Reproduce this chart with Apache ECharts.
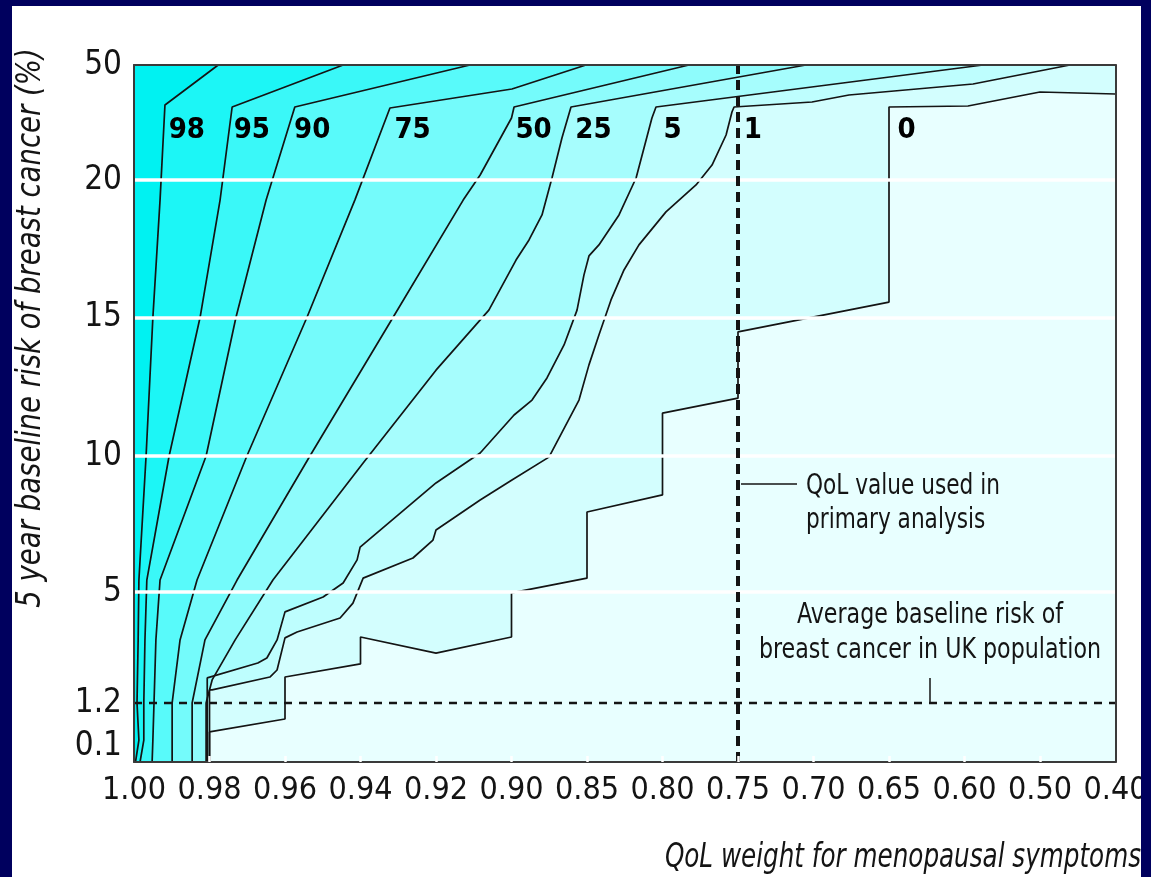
<!DOCTYPE html>
<html>
<head>
<meta charset="utf-8">
<script src="https://cdn.jsdelivr.net/npm/echarts@6.0.0/dist/echarts.min.js"></script>
<style>
  html, body { margin: 0; padding: 0; background: #00005e; }
  #chart { position: absolute; left: 12px; top: 6px; width: 1129px; height: 871px; background: #fff; }
</style>
</head>
<body>
<div id="chart"></div>
<script>
// x axis: QoL weight, ticks evenly spaced although values are not
const xTicks = [1.00, 0.98, 0.96, 0.94, 0.92, 0.90, 0.85, 0.80, 0.75, 0.70, 0.65, 0.60, 0.50, 0.40];
const xTickLabels = ['1.00', '0.98', '0.96', '0.94', '0.92', '0.90', '0.85', '0.80', '0.75', '0.70', '0.65', '0.60', '0.50', '0.40'];
// y axis: 5 year baseline risk (%)
const yTicks = [0.1, 1.2, 5, 10, 15, 20, 50];
const yTickLabels = ['0.1', '1.2', '5', '10', '15', '20', '50'];
// where the risk stops sit on the axis (% of plot height)
const yScaleRisk = [0, 0.1, 1.2, 5, 10, 15, 20, 50];
const yScaleAt = [0, 2.3, 8.46, 24.39, 43.9, 63.77, 83.5, 100];

// contour lines [QoL, risk %], top end first
const c98 = [[0.9777, 50], [0.9918, 39.57], [0.9931, 19.27], [0.9950, 15], [0.9968, 10], [0.9987, 5.44], [0.9989, 3.36], [0.9992, 1.2], [0.9987, 0.25], [0.9996, 0]];
const c95 = [[0.9446, 50], [0.9740, 39.04], [0.9772, 19.27], [0.9825, 15], [0.9907, 10], [0.9966, 5.44], [0.9971, 3.36], [0.9974, 1.2], [0.9974, 0.25], [0.9984, 0]];
const c90 = [[0.9110, 50], [0.9574, 39.04], [0.9650, 19.27], [0.9730, 15], [0.9809, 10], [0.9931, 5.44], [0.9942, 3.36], [0.9947, 1.2], [0.9950, 0.25], [0.9952, 0]];
const c75 = [[0.8507, 50], [0.8997, 43.74], [0.9322, 38.78], [0.9415, 19.27], [0.9542, 15], [0.9701, 10], [0.9833, 5.44], [0.9878, 3.36], [0.9899, 1.2], [0.9899, 0]];
const c50 = [[0.7825, 50], [0.8983, 39.04], [0.90, 36.17], [0.9083, 21.3], [0.9128, 19.27], [0.9314, 15], [0.9534, 10], [0.9727, 5.44], [0.9812, 3.36], [0.9846, 1.2], [0.9846, 0]];
const c25 = [[0.7050, 50], [0.8606, 39.04], [0.8666, 30.96], [0.8732, 20.52], [0.8798, 18.73], [0.8884, 17.82], [0.8970, 17.09], [0.9060, 15.27], [0.92, 13.1], [0.9393, 9.74], [0.9632, 5.44], [0.9732, 3.36], [0.9793, 1.99], [0.9809, 1.2], [0.9809, 0]];
const c5 = [[0.5755, 50], [0.8043, 39.04], [0.8070, 36.17], [0.8175, 20.52], [0.8288, 18.73], [0.8421, 17.64], [0.8487, 17.24], [0.8520, 16.55], [0.8566, 15.27], [0.8652, 14.01], [0.8765, 12.82], [0.8864, 12.02], [0.8983, 11.48], [0.9083, 10.11], [0.92, 9.01], [0.9401, 6.65], [0.9409, 6.18], [0.9446, 5.33], [0.9499, 4.83], [0.96, 4.32], [0.9621, 3.36], [0.9648, 2.74], [0.9672, 2.57], [0.9806, 2.06], [0.9806, 0]];
const c1 = [[0.4603, 50], [0.5887, 45.04], [0.6765, 42.17], [0.7010, 40.35], [0.7526, 39.04], [0.7540, 37.74], [0.7579, 31.74], [0.7672, 23.91], [0.7778, 19.82], [0.7977, 18.84], [0.8156, 17.64], [0.8255, 16.73], [0.8341, 15.64], [0.8421, 14.37], [0.8487, 13.29], [0.8553, 12.02], [0.8752, 9.96], [0.8997, 9.12], [0.9083, 8.38], [0.92, 7.28], [0.9208, 6.91], [0.9261, 6.25], [0.9393, 5.51], [0.9420, 4.62], [0.9454, 4.11], [0.9568, 3.63], [0.96, 3.43], [0.9621, 2.33], [0.9640, 2.09], [0.9793, 1.65], [0.98, 1.65], [0.98, 0]];
const c0 = [[0.40, 42.43], [0.50, 42.96], [0.5954, 39.3], [0.65, 39.04], [0.65, 15.56], [0.75, 14.48], [0.75, 12.09], [0.80, 11.55], [0.80, 8.57], [0.85, 7.94], [0.85, 5.51], [0.90, 4.97], [0.90, 3.46], [0.92, 2.91], [0.94, 3.46], [0.94, 2.54], [0.96, 2.09], [0.96, 0.79], [0.98, 0.46], [0.98, 0]];

const contourNames = ['0', '1', '5', '25', '50', '75', '90', '95', '98'];
const contours = [c0, c1, c5, c25, c50, c75, c90, c95, c98];
// where each contour's number is printed [QoL, risk %]
const labelSpots = [[0.6384, 33], [0.7401, 33], [0.7934, 33], [0.8457, 33], [0.8854, 33], [0.9262, 33], [0.9528, 33], [0.9688, 33], [0.9860, 33]];

const primaryQoL = 0.75;
const ukAvgRisk = 1.2;
const gridRisks = [5, 10, 15, 20];

// fill left of each contour, lightest (beyond "0") first
const bgFill = '#e8ffff';
const bandFills = ['#d3fefe', '#befefe', '#a6fdfd', '#8efcfc', '#74fbfb', '#58fafa', '#3af8f8', '#1cf6f6', '#00f2f2'];

const FONT = '"DejaVu Sans Condensed", "Liberation Sans Narrow", "Liberation Sans", sans-serif';
const INK = '#141414';

function seg(v, from, to) {
  for (let i = 0; i < from.length - 1; i++) {
    const a = from[i], b = from[i + 1];
    if ((v - a) * (v - b) <= 0) return to[i] + (v - a) / (b - a) * (to[i + 1] - to[i]);
  }
  return Math.abs(v - from[0]) < Math.abs(v - from[from.length - 1]) ? to[0] : to[to.length - 1];
}
const xIdx = xTicks.map((_, i) => i);
const toPlot = (p) => [seg(p[0], xTicks, xIdx), seg(p[1], yScaleRisk, yScaleAt)];

const qMax = xTicks[0], qMin = xTicks[xTicks.length - 1];
const rMax = yScaleRisk[yScaleRisk.length - 1];
const polys = [[[qMax, 0], [qMin, 0], [qMin, rMax], [qMax, rMax]]];
contours.forEach(c => {
  const p = c.slice();
  p.push([qMax, 0], [qMax, rMax]);
  if (c[0][1] < rMax) p.push([qMin, rMax]);
  polys.push(p);
});
const fills = [bgFill].concat(bandFills);
const polysPlot = polys.map(p => p.map(toPlot));
const yLabelAt = yTicks.map(r => seg(r, yScaleRisk, yScaleAt));

const chart = echarts.init(document.getElementById('chart'), null, { renderer: 'canvas' });

const frameLine = { show: true, onZero: false, lineStyle: { color: '#3a3a3a', width: 2 } };

const series = [{
  type: 'custom',
  coordinateSystem: 'cartesian2d',
  silent: true,
  z: 1,
  data: polysPlot.map(() => [0, 0]),
  renderItem: function (params, api) {
    const pts = polysPlot[params.dataIndex].map(p => api.coord(p));
    return { type: 'polygon', shape: { points: pts }, style: { fill: fills[params.dataIndex] } };
  }
}];

contours.forEach((c, i) => {
  series.push({
    type: 'line',
    name: contourNames[i],
    data: c.map(toPlot),
    symbol: 'none',
    silent: true,
    z: 3,
    lineStyle: { color: INK, width: 1.7 }
  });
});

// white reference lines
series.push({
  type: 'line',
  data: [],
  z: 4,
  markLine: {
    silent: true,
    symbol: ['none', 'none'],
    label: { show: false },
    lineStyle: { color: '#ffffff', width: 3.5, type: 'solid' },
    data: gridRisks.map(r => ({ yAxis: seg(r, yScaleRisk, yScaleAt) }))
  }
});

series.push({
  type: 'line',
  data: [toPlot([primaryQoL, 0]), toPlot([primaryQoL, rMax])],
  symbol: 'none', silent: true, z: 5,
  lineStyle: { color: INK, width: 4, type: [10, 6] }
});
series.push({
  type: 'line',
  data: [toPlot([qMax, ukAvgRisk]), toPlot([qMin, ukAvgRisk])],
  symbol: 'none', silent: true, z: 5,
  lineStyle: { color: INK, width: 2.5, type: [8, 7] }
});

series.push({
  type: 'scatter',
  silent: true,
  z: 6,
  symbolSize: 0,
  itemStyle: { color: INK, opacity: 1 },
  data: labelSpots.map((p, i) => ({ name: contourNames[i], value: toPlot(p) })),
  label: {
    show: true, position: 'inside', formatter: '{b}', opacity: 1,
    fontFamily: FONT, fontWeight: 'bold', fontSize: 29, color: '#000000', textBorderWidth: 0
  }
});

chart.setOption({
  animation: false,
  grid: { left: 122, top: 59, width: 981.5, height: 697, outerBoundsMode: 'none', containLabel: false },
  xAxis: [{
    type: 'value', min: 0, max: 13, interval: 1, position: 'bottom', z: 10,
    axisLine: frameLine,
    axisTick: { show: true, inside: true, length: 6, customValues: [1, 2, 3, 4, 5, 6, 7, 8, 9, 10, 11, 12], lineStyle: { color: '#ffffff', width: 2.5 } },
    axisLabel: { formatter: v => xTickLabels[v], fontFamily: FONT, fontSize: 32, color: INK, margin: 13 },
    splitLine: { show: false }
  }, {
    type: 'value', min: 0, max: 13, position: 'top', z: 10,
    axisLine: frameLine, axisTick: { show: false }, axisLabel: { show: false }, splitLine: { show: false }
  }],
  yAxis: [{
    type: 'value', min: 0, max: 100, position: 'left', z: 10,
    axisLine: frameLine, axisTick: { show: false },
    axisLabel: {
      customValues: yLabelAt,
      formatter: v => {
        let best = 0;
        yLabelAt.forEach((p, i) => { if (Math.abs(p - v) < Math.abs(yLabelAt[best] - v)) best = i; });
        return yTickLabels[best];
      },
      fontFamily: FONT, fontSize: 33, color: INK, margin: 12
    },
    splitLine: { show: false }
  }, {
    type: 'value', min: 0, max: 100, position: 'right', z: 10,
    axisLine: frameLine, axisTick: { show: false }, axisLabel: { show: false }, splitLine: { show: false }
  }],
  graphic: [
    {
      type: 'text', x: 19, y: 322, rotation: Math.PI / 2, scaleX: 0.9, z: 20,
      style: { text: '5 year baseline risk of breast cancer (%)', fontFamily: FONT, fontStyle: 'italic', fontSize: 34, fill: INK, align: 'center', verticalAlign: 'middle' }
    },
    {
      type: 'text', x: 1129, y: 852, scaleX: 0.83, z: 20,
      style: { text: 'QoL weight for menopausal symptoms', fontFamily: FONT, fontStyle: 'italic', fontSize: 33, fill: INK, align: 'right', verticalAlign: 'middle' }
    },
    {
      type: 'line', z: 20, shape: { x1: 729, y1: 478, x2: 785, y2: 478 }, style: { stroke: INK, lineWidth: 1.5 }
    },
    {
      type: 'text', x: 794, y: 463, scaleX: 0.83, z: 20,
      style: { text: 'QoL value used in\nprimary analysis', fontFamily: FONT, fontSize: 29, lineHeight: 34, fill: INK, align: 'left', verticalAlign: 'top' }
    },
    {
      type: 'text', x: 918, y: 592, scaleX: 0.85, z: 20,
      style: { text: 'Average baseline risk of\nbreast cancer in UK population', fontFamily: FONT, fontSize: 29, lineHeight: 35, fill: INK, align: 'center', verticalAlign: 'top' }
    },
    {
      type: 'line', z: 20, shape: { x1: 918, y1: 672, x2: 918, y2: 697 }, style: { stroke: INK, lineWidth: 1.5 }
    }
  ],
  series: series
});
</script>
</body>
</html>
